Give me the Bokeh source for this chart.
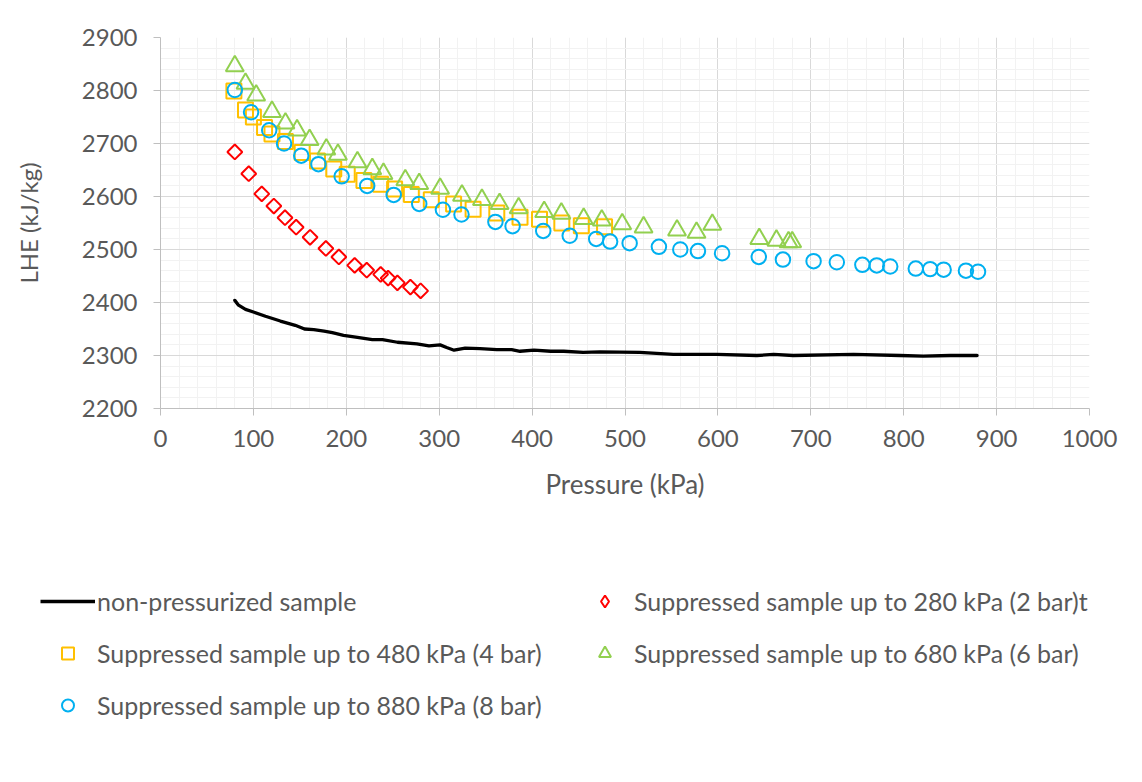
import math
from bokeh.plotting import figure
from bokeh.layouts import column
from bokeh.models import Legend, LegendItem, SingleIntervalTicker, Range1d
from bokeh.embed import file_html
from bokeh.resources import INLINE

# ---- data ----
base_p = [80, 84, 91.5, 100, 113, 129, 145, 155, 165, 176, 185, 197, 212, 228, 239, 255, 276, 289,
          301, 308, 316, 328, 344, 362, 378, 387, 402, 420, 434, 455, 473, 516, 552, 599, 642, 660,
          681, 746, 796, 821, 850, 879]
base_lhe = [2404, 2395, 2387, 2382, 2374, 2365, 2357, 2350, 2349, 2346, 2343, 2338, 2334, 2330, 2330,
            2325, 2322, 2318, 2320, 2315, 2310, 2314, 2313, 2311, 2311, 2308, 2310, 2308, 2308, 2306,
            2307, 2306, 2302, 2302, 2300, 2302, 2300, 2302, 2300, 2299, 2300, 2300]

s2_p = [80, 95, 109, 122, 134, 146, 161, 178, 192, 209, 222, 237, 245, 255, 269, 280]
s2_lhe = [2684, 2643, 2605, 2582, 2560, 2542, 2523, 2502, 2486, 2470, 2461, 2453, 2446, 2437, 2429, 2422]

s4_p = [79, 91.5, 100, 112, 120, 134.5, 152.5, 169, 186.5, 201, 219, 237, 252, 270, 291.5, 315.5,
        336.5, 362, 387, 408, 432, 453, 478]
s4_lhe = [2799, 2763, 2750, 2730, 2718, 2704, 2683, 2667, 2652, 2642, 2630, 2623, 2614, 2604, 2594,
          2586, 2576, 2569, 2561, 2557, 2550, 2545, 2543]

s6_p = [80, 91.5, 103, 120, 134.5, 147, 160.5, 178.5, 191, 212, 228, 240, 263.5, 278.5, 301, 324.5,
        346, 365, 385.5, 413, 431.5, 455.5, 475, 497, 520, 556, 577, 594, 644.5, 663, 676, 680]
s6_lhe = [2846, 2813, 2791, 2760, 2738, 2725, 2707, 2689, 2679, 2665, 2652, 2643, 2631, 2624, 2615,
          2602, 2594, 2586, 2578, 2571, 2568, 2558, 2555, 2548, 2542, 2536, 2532, 2547, 2520, 2517,
          2514, 2514]

s8_p = [80, 97.5, 117, 133, 151.5, 170, 195, 222.5, 251, 278.5, 304, 324, 360.5, 379, 412, 440.5,
        469, 484, 505, 536.5, 559.5, 578.5, 604.5, 644, 670, 703, 728, 755.5, 771, 785.5, 813, 828.5,
        843, 867, 880]
s8_lhe = [2801, 2759, 2725, 2700, 2677, 2661, 2638, 2620, 2603, 2586, 2575, 2566, 2552, 2544, 2535,
          2526, 2520, 2515, 2512, 2505, 2500, 2497, 2493, 2486, 2481, 2478, 2476, 2471, 2470, 2468,
          2464, 2463, 2462, 2460, 2458]

labels = ["non-pressurized sample",
          "Suppressed sample up to 280 kPa (2 bar)t",
          "Suppressed sample up to 480 kPa (4 bar)",
          "Suppressed sample up to 680 kPa (6 bar)",
          "Suppressed sample up to 880 kPa (8 bar)"]
x_title = "Pressure (kPa)"
y_title = "LHE (kJ/kg)"

FONT = "Lato"
TXT = "#595959"

STY = {
    "base": dict(line_color="black", line_width=3.3),
    "s2": dict(marker="square", angle=math.pi / 4, size=10.5, line_color="#FF0000", line_width=2, fill_color=None),
    "s2key": dict(marker="diamond", line_color="#FF0000", line_width=2, fill_color=None),
    "s4": dict(marker="square", size=15, line_color="#FFC000", line_width=2, fill_color=None),
    "s6": dict(marker="triangle", size=18, line_color="#92D050", line_width=2, fill_color=None),
    "s8": dict(marker="circle", size=14.5, line_color="#00B0F0", line_width=2, fill_color=None),
}

TOP_H = 510
p = figure(width=1142, height=TOP_H, output_backend="svg", toolbar_location=None,
           min_border_left=160, min_border_right=53, min_border_top=37, min_border_bottom=TOP_H - 408,
           x_range=Range1d(0, 1000), y_range=Range1d(2200, 2900))
p.outline_line_color = None
p.background_fill_color = "white"
p.border_fill_color = "white"

p.xaxis.ticker = SingleIntervalTicker(interval=100, num_minor_ticks=5)
p.yaxis.ticker = SingleIntervalTicker(interval=100, num_minor_ticks=5)
for g in (p.xgrid, p.ygrid):
    g.grid_line_color = "#d9d9d9"
    g.grid_line_width = 1
    g.minor_grid_line_color = "#f2f2f2"
    g.minor_grid_line_width = 1

for ax in (p.xaxis, p.yaxis):
    ax.axis_line_color = "#bfbfbf"
    ax.major_tick_line_color = "#bfbfbf"
    ax.major_tick_out = 7
    ax.major_tick_in = 0
    ax.minor_tick_out = 0
    ax.minor_tick_in = 0
    ax.major_label_text_font = FONT
    ax.major_label_text_font_size = "24px"
    ax.major_label_text_color = TXT
    ax.axis_label_text_font = FONT
    ax.axis_label_text_color = TXT
    ax.axis_label_text_font_style = "normal"

p.xaxis.axis_label = x_title
p.yaxis.axis_label = y_title
p.xaxis.axis_label_text_font_size = "26px"
p.yaxis.axis_label_text_font_size = "24px"
p.xaxis.major_label_standoff = 14
p.yaxis.major_label_standoff = 16
p.xaxis.axis_label_standoff = 18
p.yaxis.axis_label_standoff = 36

p.line(base_p, base_lhe, line_join="round", line_cap="round", **STY["base"])
p.scatter(s2_p, s2_lhe, **STY["s2"])
p.scatter(s4_p, s4_lhe, **STY["s4"])
p.scatter(s6_p, s6_lhe, **STY["s6"])
p.scatter(s8_p, s8_lhe, **STY["s8"])

# ---- legend panel: its own canvas below the chart ----
# key renderers reuse the series data; the ranges keep those points out of view
LEG_H = 782 - TOP_H
q = figure(width=1142, height=LEG_H, output_backend="svg", toolbar_location=None,
           min_border=0, x_axis_type=None, y_axis_type=None,
           x_range=Range1d(0, 1), y_range=Range1d(0, 1))
q.grid.visible = False
q.outline_line_color = None
q.border_fill_color = "white"
q.background_fill_color = "white"

k0 = q.line(base_p, base_lhe, **STY["base"])
k2 = q.scatter(s2_p, s2_lhe, **STY["s2key"])
k4 = q.scatter(s4_p, s4_lhe, **STY["s4"])
k6 = q.scatter(s6_p, s6_lhe, **STY["s6"])
k8 = q.scatter(s8_p, s8_lhe, **STY["s8"])

def make_legend(items, x, y):
    lg = Legend(items=items, location=(x, y), orientation="vertical",
                background_fill_alpha=0, border_line_color=None,
                padding=0, margin=0, spacing=22, glyph_width=55, glyph_height=30,
                label_height=30, label_standoff=2,
                label_text_font=FONT, label_text_font_size="25px", label_text_color=TXT)
    q.add_layout(lg, "center")
    return lg

make_legend([LegendItem(label=labels[0], renderers=[k0]),
             LegendItem(label=labels[2], renderers=[k4]),
             LegendItem(label=labels[4], renderers=[k8])], 40, 62)
make_legend([LegendItem(label=labels[1], renderers=[k2]),
             LegendItem(label=labels[3], renderers=[k6])], 577, 114)

layout = column(p, column(q, spacing=0), spacing=0)
open("out.html", "w").write(file_html(layout, INLINE))
